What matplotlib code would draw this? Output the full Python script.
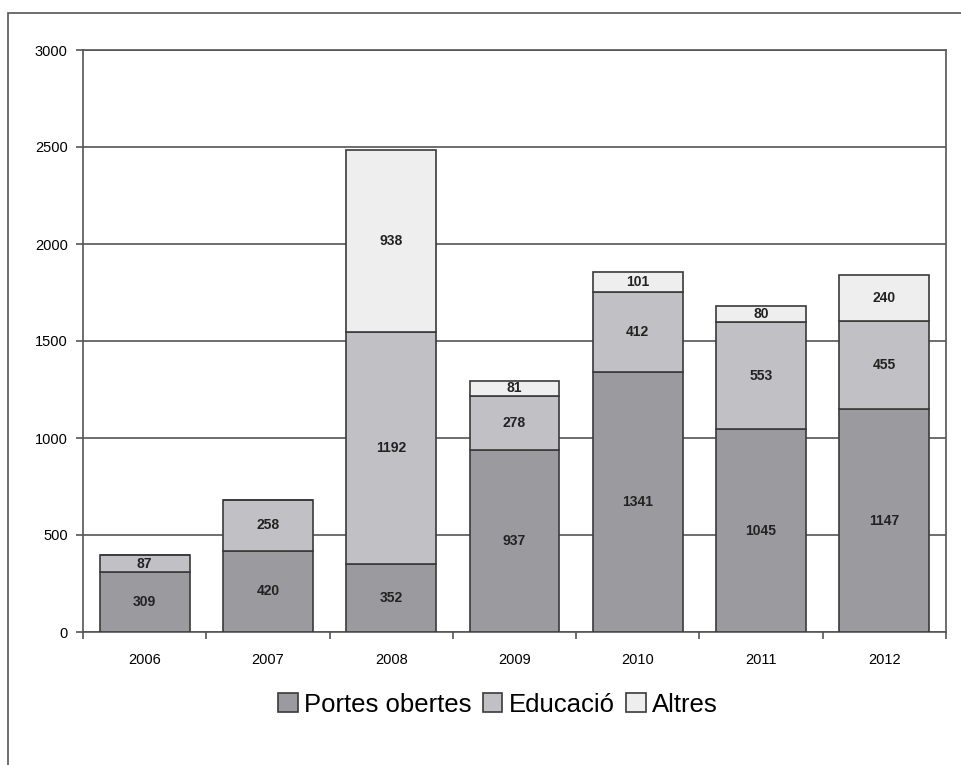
import numpy as np
import matplotlib
matplotlib.use('Agg')
import matplotlib.pyplot as plt
from matplotlib.patches import Rectangle

plt.rcParams['font.family'] = ['Liberation Sans', 'DejaVu Sans']

years = ['2006', '2007', '2008', '2009', '2010', '2011', '2012']
portes = [309, 420, 352, 937, 1341, 1045, 1147]
educacio = [87, 258, 1192, 278, 412, 553, 455]
altres = [0, 0, 938, 81, 101, 80, 240]

series = [('Portes obertes', portes, '#9b9b9f'),
          ('Educació', educacio, '#c1c1c5'),
          ('Altres', altres, '#eeeeee')]

fig = plt.figure(figsize=(9.61, 7.65), dpi=100)
# outer chart frame (cut on right and bottom)
fig.patches.append(Rectangle((8/961, -0.1), 1.2, 0.1 + 1 - 13/765, transform=fig.transFigure,
                             fill=False, edgecolor='#555555', linewidth=1.2))
ax = fig.add_axes([83/961, 1 - 632/765, 863/961, 582/765])

x = np.arange(len(years))
bottom = np.zeros(len(years))
for name, vals, col in series:
    vals = np.array(vals)
    ax.bar(x, vals, 0.73, bottom=bottom, color=col, edgecolor='#3a3a3a', linewidth=1.2,
           label=name, zorder=3)
    for xi, b, v in zip(x, bottom, vals):
        if v > 0:
            ax.text(xi, b + v / 2, str(v), ha='center', va='center', fontsize=10,
                    fontweight='bold', color='#222222', zorder=4)
    bottom += vals

ax.set_xlim(-0.5, len(years) - 0.5)
ax.set_ylim(0, 3000)
ax.set_yticks(np.arange(0, 3001, 500))
ax.yaxis.grid(True, color='#555555', linewidth=1.2, zorder=0)
ax.set_xticks(x)
ax.set_xticklabels(years)
ax.set_xticks(np.arange(-0.5, len(years), 1), minor=True)
ax.tick_params(axis='x', which='major', length=0, pad=15, labelsize=10.5)
ax.tick_params(axis='x', which='minor', length=5, color='#555555', width=1.2)
ax.tick_params(axis='y', length=5, color='#555555', width=1.2, labelsize=10.5, pad=6)
for s in ax.spines.values():
    s.set_color('#555555')
    s.set_linewidth(1.2)

ax.legend(loc='center', bbox_to_anchor=(0.481, -0.125), ncol=3, frameon=False,
          fontsize=18.5, handlelength=0.75, handleheight=0.75, handletextpad=0.25,
          columnspacing=0.45)

fig.savefig('out.png', dpi=100)
